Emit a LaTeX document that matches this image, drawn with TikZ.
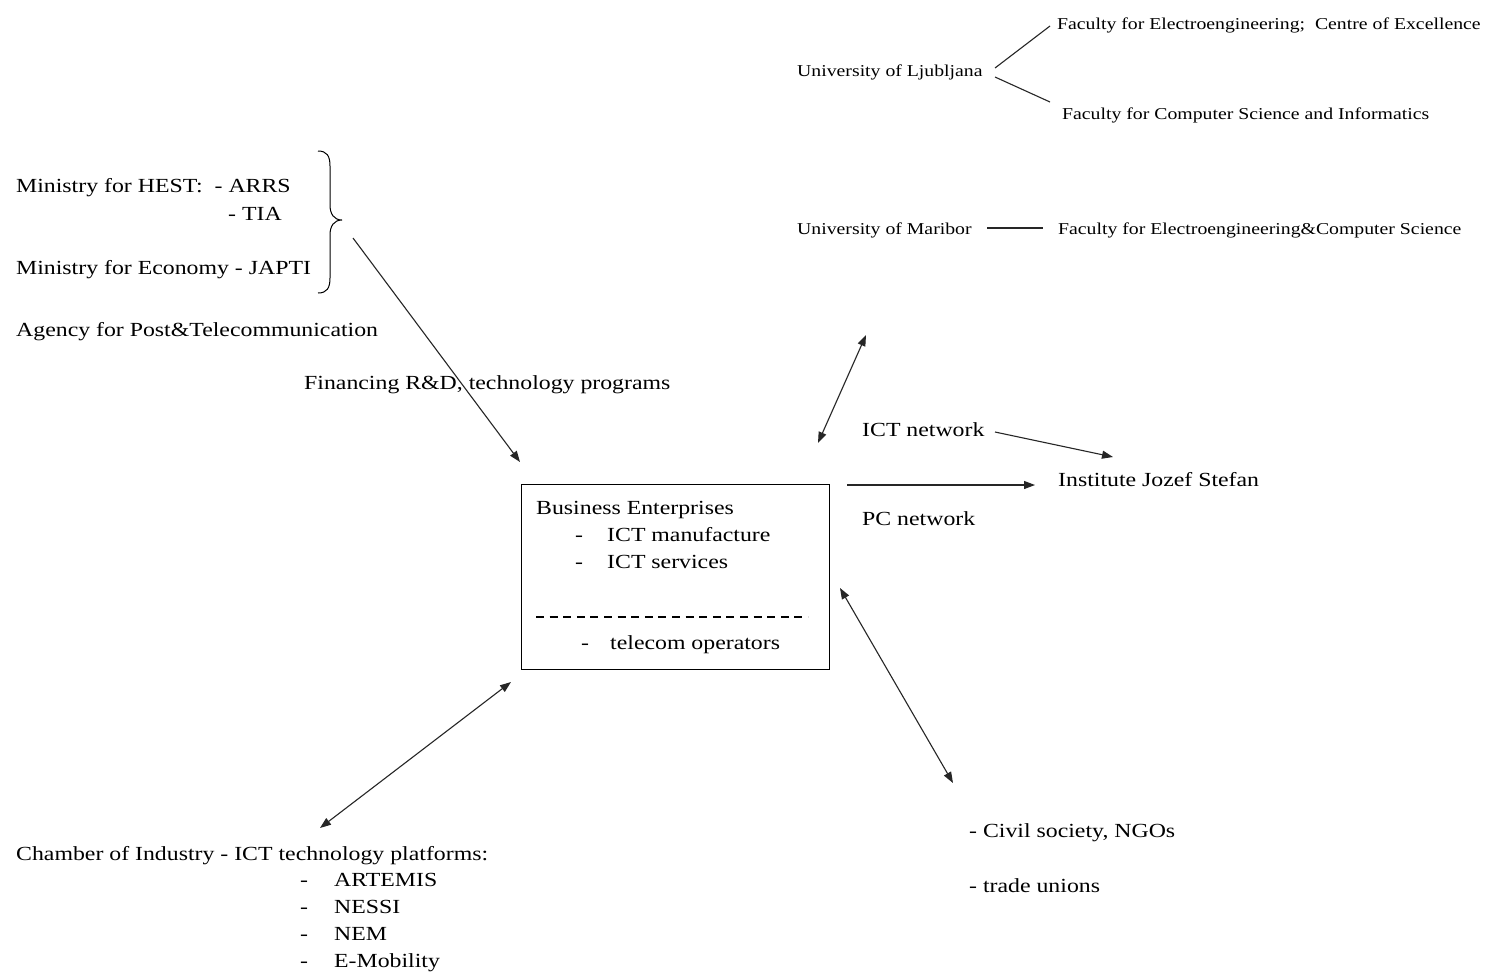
\documentclass[tikz,border=0pt]{standalone}
\usepackage{fontspec}
\setmainfont{Liberation Serif}[FakeStretch=1.19]
\usetikzlibrary{arrows.meta}
\newcommand\bigf{\fontsize{20}{27}\selectfont}
\newcommand\smallf{\fontsize{16.6}{20}\selectfont}
\begin{document}
\begin{tikzpicture}[x=1pt,y=-1pt,
  big/.style={anchor=base west,inner sep=0pt,font=\bigf},
  small/.style={anchor=base west,inner sep=0pt,font=\smallf},
  conn/.style={line width=1.1pt,black!85},
  arr/.style={conn,-{Triangle[length=11pt,width=8pt]}},
  darr/.style={conn,{Triangle[length=11pt,width=8pt]}-{Triangle[length=11pt,width=8pt]}},
  boxst/.style={draw,line width=1.3pt,anchor=north west,inner sep=0pt,minimum width=308pt,minimum height=185pt}]
\useasboundingbox (0,0) rectangle (1488,975);
\fill[white] (0,0) rectangle (1488,975);

% top right
\node[small] (fe) at (1057,29) {Faculty for Electroengineering;\ \ Centre of Excellence};
\node[small] (ulj) at (797,76) {University of Ljubljana};
\node[small] (fcs) at (1062,119) {Faculty for Computer Science and Informatics};
\coordinate (ulja) at (995,68);
\coordinate (uljb) at (995,77);
\coordinate (fea) at (1050,26);
\coordinate (fcsa) at (1050,102);
\draw[conn] (ulja) -- (fea);
\draw[conn] (uljb) -- (fcsa);

\node[small] (umb) at (797,234) {University of Maribor};
\node[small] (fecs) at (1058,234) {Faculty for Electroengineering\&Computer Science};
\coordinate (umba) at (987,228);
\coordinate (fecsa) at (1043,228);
\draw[conn] (umba) -- (fecsa);

% left
\node[big] (hest) at (16,192) {Ministry for HEST:\ \ - ARRS};
\node[big] (tia) at (228,220) {- TIA};
\node[big] (econ) at (16,274) {Ministry for Economy - JAPTI};
\node[big] (agency) at (16,336) {Agency for Post\&Telecommunication};
\draw[line width=1pt] (318,151) .. controls (327,151) and (330,156) .. (330,166) -- (330,205)
  .. controls (330,214) and (334,220) .. (342,220)
  .. controls (334,220) and (330,226) .. (330,235) -- (330,278)
  .. controls (330,288) and (327,293) .. (318,293);
\node[big] (fin) at (304,389) {Financing R\&D, technology programs};
\coordinate (fins) at (353,238);
\coordinate (fine) at (520,462);
\draw[arr] (fins) -- (fine);

% box
\node[boxst] (be) at (521,484) {};
\node[big] (bet) at (536,514) {Business Enterprises};
\node[big] (d1) at (575,541) {-};
\node[big] (icm) at (607,541) {ICT manufacture};
\node[big] (d2) at (575,568) {-};
\node[big] (ics) at (607,568) {ICT services};
\draw[line width=1.4pt,dash pattern=on 8pt off 5.6pt] (536,617) -- (808,617);
\node[big] (d3) at (581,649) {-};
\node[big] (tel) at (610,649) {telecom operators};

% right
\coordinate (u1) at (866,335);
\coordinate (u2) at (818,443);
\draw[darr] (u1) -- (u2);
\node[big] (ictn) at (862,436) {ICT network};
\node[big] (ijs) at (1058,486) {Institute Jozef Stefan};
\coordinate (ictna) at (995,432);
\coordinate (ijsa) at (1113,457);
\draw[arr] (ictna) -- (ijsa);
\coordinate (pca) at (847,485);
\coordinate (pcb) at (1035,485);
\draw[arr] (pca) -- (pcb);
\node[big] (pcn) at (862,525) {PC network};

\coordinate (c1) at (840,588);
\coordinate (c2) at (953,783);
\draw[darr] (c1) -- (c2);
\node[big] (civ) at (969,837) {- Civil society, NGOs};
\node[big] (tu) at (969,892) {- trade unions};

% bottom left
\coordinate (b1) at (511,682);
\coordinate (b2) at (320,828);
\draw[darr] (b1) -- (b2);
\node[big] (ch) at (16,860) {Chamber of Industry - ICT technology platforms:};
\node[big] (e1d) at (300,886) {-};
\node[big] (e1) at (334,886) {ARTEMIS};
\node[big] (e2d) at (300,913) {-};
\node[big] (e2) at (334,913) {NESSI};
\node[big] (e3d) at (300,940) {-};
\node[big] (e3) at (334,940) {NEM};
\node[big] (e4d) at (300,967) {-};
\node[big] (e4) at (334,967) {E-Mobility};
\end{tikzpicture}
\end{document}
